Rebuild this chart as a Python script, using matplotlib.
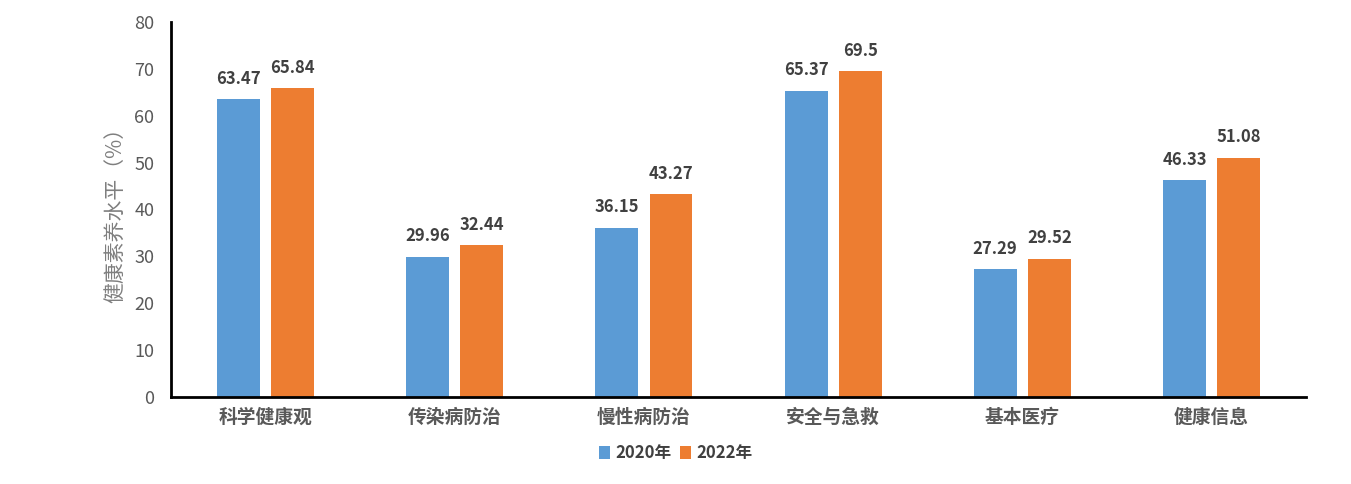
import matplotlib
matplotlib.use("Agg")
import matplotlib.pyplot as plt
import numpy as np

plt.rcParams['font.family'] = ['Noto Sans CJK SC', 'DejaVu Sans']

categories = ["科学健康观", "传染病防治", "慢性病防治", "安全与急救", "基本医疗", "健康信息"]
v2020 = [63.47, 29.96, 36.15, 65.37, 27.29, 46.33]
v2022 = [65.84, 32.44, 43.27, 69.5, 29.52, 51.08]
labels2020 = ["63.47", "29.96", "36.15", "65.37", "27.29", "46.33"]
labels2022 = ["65.84", "32.44", "43.27", "69.5", "29.52", "51.08"]
series_names = ["2020年", "2022年"]
yticks = [0, 10, 20, 30, 40, 50, 60, 70, 80]

fig = plt.figure(figsize=(13.51, 4.84), dpi=100)
ax = fig.add_axes([0.1266, 0.1798, 0.8401, 0.7747])

x = np.arange(len(categories))
w = 0.227
off = 0.143
b1 = ax.bar(x - off, v2020, w, color='#5B9BD5', label=series_names[0])
b2 = ax.bar(x + off, v2022, w, color='#ED7D31', label=series_names[1])

for xi, v, t in zip(x - off, v2020, labels2020):
    ax.text(xi, v + 2.4, t, ha='center', va='bottom', fontsize=12, fontweight='bold', color='#404040')
for xi, v, t in zip(x + off, v2022, labels2022):
    ax.text(xi, v + 2.4, t, ha='center', va='bottom', fontsize=12, fontweight='bold', color='#404040')

ax.set_xlim(-0.5, 5.5)
ax.set_ylim(0, 80)
ax.set_yticks(yticks)
ax.set_yticklabels([str(t) for t in yticks], fontsize=13, color='#595959')
ax.set_xticks(x)
ax.set_xticklabels(categories, fontsize=13.5, color='#595959', fontweight='bold')
ax.tick_params(axis='both', length=0)
ax.tick_params(axis='x', pad=8)
ax.tick_params(axis='y', pad=12)
for s in ['top', 'right']:
    ax.spines[s].set_visible(False)
for s in ['left', 'bottom']:
    ax.spines[s].set_linewidth(2)
    ax.spines[s].set_color('black')
ax.set_ylabel("健康素养水平（%）", fontsize=15, color='#7f7f7f', labelpad=6)

leg = fig.legend(handles=[b1, b2], labels=series_names, loc='center', bbox_to_anchor=(0.5, 0.064),
                 ncol=2, frameon=False, fontsize=12, handlelength=0.7, handleheight=0.8,
                 handletextpad=0.3, columnspacing=0.5)
for t in leg.get_texts():
    t.set_color('#404040')
    t.set_fontweight('bold')

fig.savefig("out.png", dpi=100)
